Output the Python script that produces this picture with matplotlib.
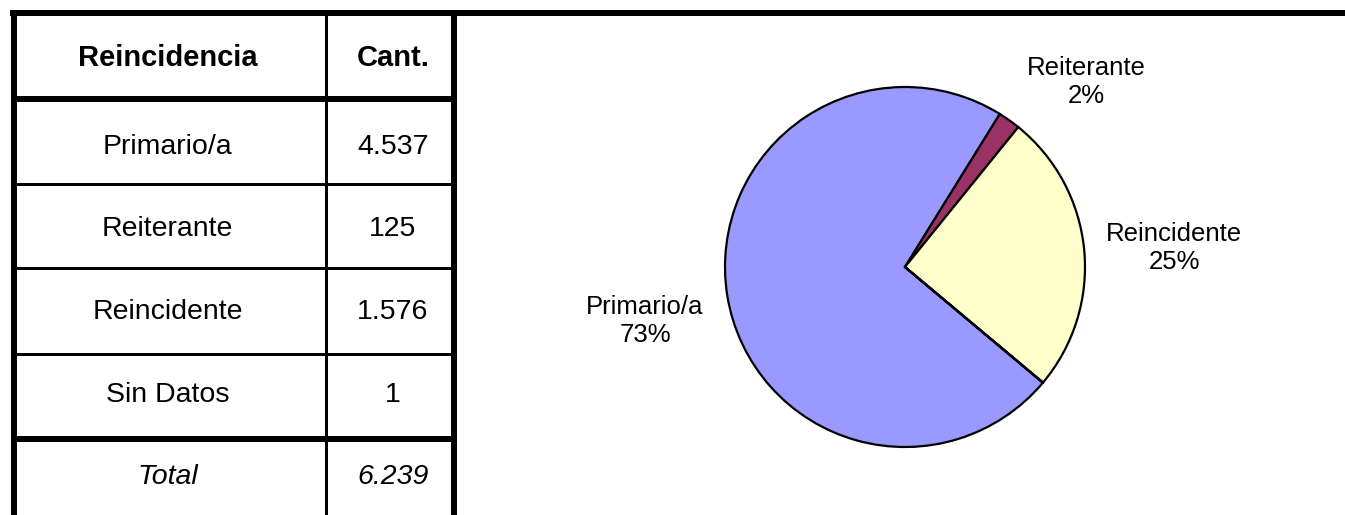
import matplotlib
matplotlib.use("Agg")
import matplotlib.pyplot as plt
import numpy as np

# ---- data ----
categories = ["Primario/a", "Reiterante", "Reincidente", "Sin Datos"]
counts = [4537, 125, 1576, 1]
count_labels = ["4.537", "125", "1.576", "1"]
total_label = "6.239"
header = ["Reincidencia", "Cant."]
pie_colors = ["#9999FF", "#993366", "#FFFFCC", "#CCFFFF"]

plt.rcParams['font.family'] = ['Liberation Sans', 'DejaVu Sans']

W, H = 1345, 515
fig = plt.figure(figsize=(W / 100, H / 100), dpi=100)
fig.patch.set_facecolor("white")

# ---- table drawn in pixel coordinates ----
tab = fig.add_axes([0, 0, 1, 1])
tab.set_xlim(0, W)
tab.set_ylim(H, 0)
tab.axis("off")

px = 72 / 100  # points per pixel
thick = 6 * px
thin = 3 * px

x_left, x_div, x_right = 13.5, 325.5, 454
y_top, y_head = 13, 99
y_rows = [183.5, 268, 353.5]
y_total = 439

tab.plot([10, W], [y_top, y_top], color="black", lw=thick, solid_capstyle="butt")
tab.plot([x_left, x_left], [10, H], color="black", lw=thick, solid_capstyle="butt")
tab.plot([x_right, x_right], [10, H], color="black", lw=thick, solid_capstyle="butt")
tab.plot([x_div, x_div], [y_top, H], color="black", lw=thin, solid_capstyle="butt")
tab.plot([x_left, x_right], [y_head, y_head], color="black", lw=thick, solid_capstyle="butt")
for y in y_rows:
    tab.plot([x_left, x_right], [y, y], color="black", lw=thin, solid_capstyle="butt")
tab.plot([x_left, x_right], [y_total, y_total], color="black", lw=thick, solid_capstyle="butt")

c1 = (x_left + x_div) / 2 - 2
c2 = (x_div + x_right) / 2 + 3
fs = 20.5
tab.text(c1, 58, header[0], ha="center", va="center", fontsize=21, fontweight="bold")
tab.text(c2, 58, header[1], ha="center", va="center", fontsize=21, fontweight="bold")
row_y = [147, 229, 312, 395]
for yc, cat, lab in zip(row_y, categories, count_labels):
    tab.text(c1, yc, cat, ha="center", va="center", fontsize=fs)
    tab.text(c2, yc, lab, ha="center", va="center", fontsize=fs)
tab.text(c1, 477, "Total", ha="center", va="center", fontsize=fs, style="italic")
tab.text(c2, 477, total_label, ha="center", va="center", fontsize=fs, style="italic")

# ---- pie ----
cx, cy, r = 905, 267, 180
pax = fig.add_axes([(cx - r) / W, (H - cy - r) / H, 2 * r / W, 2 * r / H])
wedges, _ = pax.pie(counts, colors=pie_colors, startangle=-40, counterclock=False,
                    radius=1.0,
                    wedgeprops=dict(edgecolor="black", linewidth=1.6))
pax.set_xlim(-1, 1)
pax.set_ylim(-1, 1)
pax.set_aspect("equal")
pax.axis("off")

total = sum(counts)
label_pos = {"Primario/a": (1.475, 191.7), "Reiterante": (1.44, 45.5), "Reincidente": (1.50, 4.0)}
for w, cat, v in zip(wedges, categories, counts):
    pct = round(v / total * 100)
    if pct == 0:
        continue
    d, ang = label_pos[cat]
    xt = d * np.cos(np.deg2rad(ang))
    yt = d * np.sin(np.deg2rad(ang))
    pax.text(xt, yt, f"{cat}\n{pct}%", ha="center", va="center", fontsize=18.5,
             linespacing=1.2, clip_on=False)

fig.savefig("out.png", dpi=100, facecolor="white")
